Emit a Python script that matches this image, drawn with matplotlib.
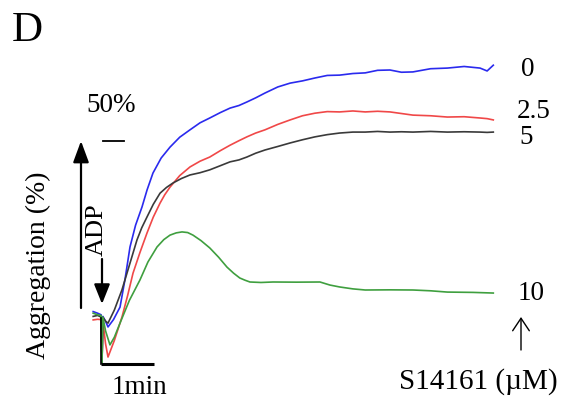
import numpy as np
import matplotlib.pyplot as plt
from matplotlib.transforms import Affine2D
from matplotlib.patches import FancyArrowPatch

plt.rcParams['font.family'] = ['Liberation Serif', 'DejaVu Serif']

# time (s) after ADP, aggregation (%)
t_0 = [-10, -5, -1, 0, 1, 4, 6.8, 13, 20.4, 26, 31.7, 38, 45.3, 51, 57.7, 67, 77, 88, 99.6, 111, 122, 134,
       145, 155, 164, 174, 184.5, 199, 213, 227, 241, 255, 269, 284, 298, 312, 326, 339, 352, 372, 391, 410, 428, 436, 443]
agg_0 = [2.0, 1.5, 1.0, -14, 0.5, -1.0, -2.8, -0.5, 3.4, 12, 22.2, 29, 34.7, 40, 45.3, 50, 53.4, 56.5, 58.8, 61, 62.5, 64.2,
         65.6, 66.4, 67.5, 68.8, 70.3, 72.2, 73.4, 74.1, 75.0, 75.8, 75.9, 76.4, 76.6, 77.4, 77.5, 76.8, 76.9, 77.9, 78.1, 78.6, 78.1, 77.2, 79.0]

t_25 = [-10, -5, -1, 0, 1, 4, 6.8, 14, 22.6, 29, 35.1, 43, 51, 58, 65.7, 71, 77, 88, 99.6, 111, 122, 134,
        145, 155, 164, 174, 184.5, 199, 213, 227, 241, 255, 269, 284, 298, 312, 326, 339, 352, 372, 391, 410, 428, 436, 443]
agg_25 = [-0.6, -0.4, -0.5, -14, -1.0, -8, -12.2, -7, 0.3, 7, 14.0, 20.5, 26.6, 31.5, 35.9, 38.5, 40.9, 44.5, 47.2, 49, 50.3, 52.3,
          54.0, 55.4, 56.6, 57.8, 58.8, 60.5, 61.9, 63.2, 64.0, 64.5, 64.4, 64.7, 64.4, 64.6, 64.4, 63.9, 63.4, 63.2, 62.8, 62.9, 62.5, 62.3, 61.9]

t_5 = [-10, -5, -1, 0, 1, 4, 6.8, 14, 22.6, 31, 39.6, 45, 51, 58, 65.7, 73, 80.4, 90, 99.6, 111, 122, 134,
       145, 155, 164, 174, 184.5, 199, 213, 227, 241, 255, 269, 284, 298, 312, 326, 339, 352, 372, 391, 410, 428, 436, 443]
agg_5 = [0.5, 0.8, 0.3, -14, 0.2, -1.0, -1.6, 2.5, 8.8, 16.5, 24.4, 28.2, 31.6, 35.5, 39.0, 40.8, 42.2, 43.6, 44.7, 45.4, 46.3, 47.6,
         48.8, 49.4, 50.3, 51.5, 52.5, 53.6, 54.7, 55.7, 56.6, 57.3, 57.8, 58.1, 58.1, 58.3, 58.1, 58.2, 58.1, 58.3, 58.1, 58.2, 58.1, 58.0, 58.1]

t_10 = [-10, -5, -1, 0, 1, 4, 9, 14, 20.4, 31, 43, 52, 62.3, 70, 77, 84, 90.6, 97, 103, 112, 122, 132,
        141.5, 149, 156, 162, 167.5, 180, 193.6, 220, 246.8, 258, 269, 284, 298, 326, 352, 372, 391, 420, 443]
agg_10 = [1.5, 1.0, 0.8, -14, 0.3, -4, -8.4, -6, -1.6, 5.5, 11.9, 17.5, 22.2, 24.5, 25.9, 26.6, 26.9, 26.7, 25.9, 24.2, 21.9, 19.0,
          15.9, 14.0, 12.5, 11.8, 11.25, 11.1, 11.25, 11.2, 11.25, 10.3, 9.7, 9.1, 8.75, 8.8, 8.75, 8.5, 8.1, 8.0, 7.8]

doses = ["0", "2.5", "5", "10"]
colors = ["#2a2aee", "#f04848", "#3a3a3a", "#3f9f3f"]

W, H = 564, 409
fig = plt.figure(figsize=(W / 100, H / 100), dpi=100)
ax = fig.add_axes([0, 0, 1, 1])
# 53 px per minute, 3.2 px per %; ADP at x=102 px, baseline at y=318 px
ax.set_xlim(-102 / 0.8833, (W - 102) / 0.8833)
ax.set_ylim((318 - H) / 3.2, 318 / 3.2)
ax.axis('off')

pix = Affine2D().scale(1 / W, -1 / H).translate(0, 1) + fig.transFigure

for tt, aa, c in zip([t_0, t_25, t_5, t_10], [agg_0, agg_25, agg_5, agg_10], colors):
    ax.plot(tt, aa, color=c, lw=1.2, solid_joinstyle='round')

# 1 min scale bar
ax.plot([-1.5, 58.5], [-14.4, -14.4], color='black', lw=2.2, solid_capstyle='butt')
ax.plot([-1.5, -1.5], [-14.4, 0], color='black', lw=1.2)

# 50% scale mark and arrow
fig.add_artist(plt.Line2D([103, 124], [141, 141], color='black', lw=1.3, transform=pix))
fig.add_artist(FancyArrowPatch((81, 308), (81, 141), transform=pix, arrowstyle='-|>,head_length=0.65,head_width=0.24',
                               mutation_scale=20, color='black', lw=1.6, shrinkA=0, shrinkB=0))
# ADP arrow
fig.add_artist(FancyArrowPatch((102, 259), (102, 304), transform=pix, arrowstyle='-|>,head_length=0.6,head_width=0.24',
                               mutation_scale=20, color='black', lw=1.6, shrinkA=0, shrinkB=0))
# compound arrow
fig.add_artist(FancyArrowPatch((521, 350), (521, 317), transform=pix, arrowstyle='->,head_length=0.45,head_width=0.3',
                               mutation_scale=20, color='black', lw=1.0, shrinkA=0, shrinkB=0))

fig.text(12, 31, "D", transform=pix, fontsize=31, ha='left', va='center')
fig.text(111, 106, "50%", transform=pix, fontsize=19.5, ha='center', va='center')
fig.text(97, 230, "ADP", transform=pix, fontsize=19, ha='center', va='center', rotation=90)
fig.text(38, 265, "Aggregation (%)", transform=pix, fontsize=20, ha='center', va='center', rotation=90)
fig.text(139, 388, "1min", transform=pix, fontsize=19.5, ha='center', va='center')
fig.text(478, 382, "S14161 (\u00b5M)", transform=pix, fontsize=21, ha='center', va='center')

label_y = [69, 112, 137, 293]
label_x = [521, 517, 519, 518]
for lab, lx, ly in zip(doses, label_x, label_y):
    fig.text(lx, ly, lab, transform=pix, fontsize=19.5, ha='left', va='center')

fig.savefig("out.png", dpi=100)
